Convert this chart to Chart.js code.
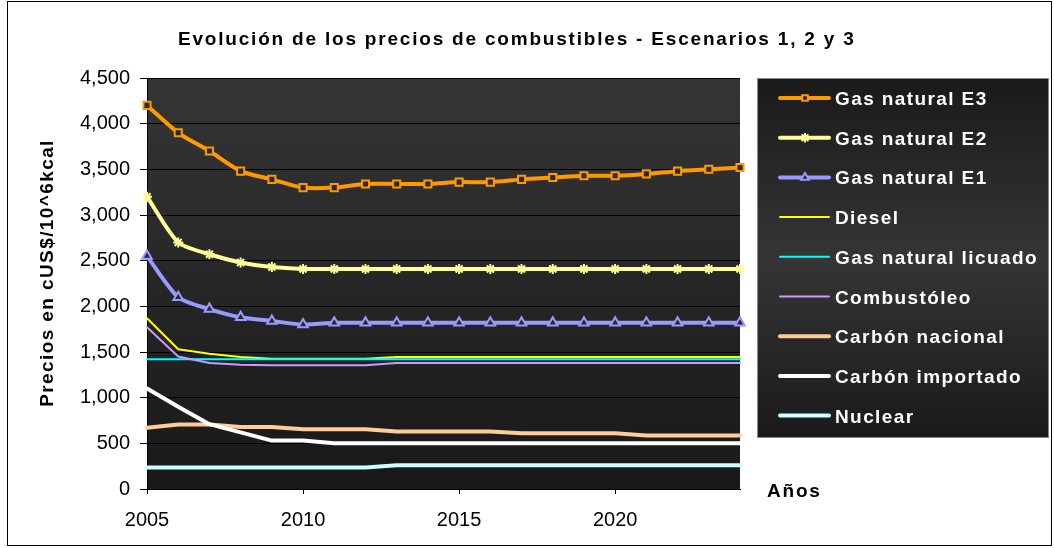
<!DOCTYPE html>
<html>
<head>
<meta charset="utf-8">
<title>Evolución de los precios de combustibles</title>
<script src="https://cdn.jsdelivr.net/npm/chart.js@4.4.1/dist/chart.umd.min.js"></script>
<style>
  html, body { margin: 0; padding: 0; background: #fff; }
  #wrap { width: 1054px; height: 548px; }
</style>
</head>
<body>
<div id="wrap"><canvas id="fuelChart" width="1054" height="548"></canvas></div>
<script>
// Years
const years = ['2005','2006','2007','2008','2009','2010','2011','2012','2013','2014',
               '2015','2016','2017','2018','2019','2020','2021','2022','2023','2024'];

// Prices, cUS$/10^6 kcal
const gasE3 = [4200, 3900, 3700, 3480, 3390, 3300, 3300, 3340, 3340, 3340, 3360, 3360, 3390, 3410, 3430, 3430, 3450, 3480, 3500, 3520];
const gasE2 = [3200, 2700, 2570, 2480, 2430, 2410, 2410, 2410, 2410, 2410, 2410, 2410, 2410, 2410, 2410, 2410, 2410, 2410, 2410, 2410];
const gasE1 = [2550, 2100, 1970, 1880, 1840, 1800, 1820, 1820, 1820, 1820, 1820, 1820, 1820, 1820, 1820, 1820, 1820, 1820, 1820, 1820];
const diesel = [1870, 1530, 1480, 1445, 1425, 1425, 1425, 1425, 1445, 1445, 1445, 1445, 1445, 1445, 1445, 1445, 1445, 1445, 1445, 1445];
const gnl = [1420, 1420, 1420, 1420, 1420, 1420, 1420, 1420, 1420, 1420, 1420, 1420, 1420, 1420, 1420, 1420, 1420, 1420, 1420, 1420];
const combustoleo = [1770, 1450, 1380, 1360, 1355, 1355, 1355, 1355, 1380, 1380, 1380, 1380, 1380, 1380, 1380, 1380, 1380, 1380, 1380, 1380];
const carbonNac = [670, 705, 705, 680, 680, 655, 655, 655, 630, 630, 630, 630, 610, 610, 610, 610, 585, 585, 585, 585];
const carbonImp = [1100, 900, 710, 620, 530, 530, 500, 500, 500, 500, 500, 500, 500, 500, 500, 500, 500, 500, 500, 500];
const nuclear = [235, 235, 235, 235, 235, 235, 235, 235, 260, 260, 260, 260, 260, 260, 260, 260, 260, 260, 260, 260];

// y axis
const yMax = 4500;
const yStep = 500;

const FONT = "'Liberation Sans', Arial, sans-serif";

const series = [
  { label: 'Gas natural E3', data: gasE3, color: '#FF9900', width: 4, marker: 'rect', r: 5, tension: 0.25 },
  { label: 'Gas natural E2', data: gasE2, color: '#FFFF99', width: 4, marker: 'star', r: 5, tension: 0.25 },
  { label: 'Gas natural E1', data: gasE1, color: '#9999FF', width: 4, marker: 'triangle', r: 5.5, tension: 0.25 },
  { label: 'Diesel', data: diesel, color: '#FFFF00', width: 2 },
  { label: 'Gas natural licuado', data: gnl, color: '#00FFFF', width: 2 },
  { label: 'Combustóleo', data: combustoleo, color: '#CC99FF', width: 2 },
  { label: 'Carbón nacional', data: carbonNac, color: '#FFCC99', width: 4 },
  { label: 'Carbón importado', data: carbonImp, color: '#FFFFFF', width: 4 },
  { label: 'Nuclear', data: nuclear, color: '#CCFFFF', width: 4 }
];

function drawMarker(ctx, style, x, y, r, color, fill) {
  ctx.save();
  ctx.strokeStyle = color;
  ctx.fillStyle = fill;
  ctx.lineWidth = 2;
  ctx.beginPath();
  if (style === 'rect') {
    const h = r * 0.7;
    ctx.rect(x - h, y - h, 2 * h, 2 * h);
    ctx.fill(); ctx.stroke();
  } else if (style === 'triangle') {
    ctx.moveTo(x, y - r);
    ctx.lineTo(x + r * 0.87, y + r * 0.5);
    ctx.lineTo(x - r * 0.87, y + r * 0.5);
    ctx.closePath();
    ctx.fill(); ctx.stroke();
  } else if (style === 'star') {
    const d = r * 0.7;
    ctx.moveTo(x - r, y); ctx.lineTo(x + r, y);
    ctx.moveTo(x, y - r); ctx.lineTo(x, y + r);
    ctx.moveTo(x - d, y - d); ctx.lineTo(x + d, y + d);
    ctx.moveTo(x - d, y + d); ctx.lineTo(x + d, y - d);
    ctx.stroke();
  }
  ctx.restore();
}

const decor = {
  id: 'decor',
  beforeDraw(chart) {
    const { ctx, chartArea: a } = chart;
    ctx.save();
    ctx.fillStyle = '#fff';
    ctx.fillRect(0, 0, chart.width, chart.height);
    const g = ctx.createLinearGradient(0, a.top, 0, a.bottom);
    g.addColorStop(0, '#353535');
    g.addColorStop(1, '#181818');
    ctx.fillStyle = g;
    ctx.fillRect(a.left, a.top, a.right - a.left, a.bottom - a.top);
    ctx.restore();
  },
  afterDraw(chart) {
    const ctx = chart.ctx;
    ctx.save();
    ctx.font = 'bold 19px ' + FONT;
    ctx.textAlign = 'left';
    ctx.textBaseline = 'alphabetic';

    // title
    ctx.fillStyle = '#000';
    ctx.letterSpacing = '1.8px';
    ctx.fillText('Evolución de los precios de combustibles - Escenarios 1, 2 y 3', 178, 45);

    // axis titles
    ctx.fillText('Años', 767, 497);
    ctx.letterSpacing = '1.4px';
    ctx.save();
    ctx.translate(53, 273);
    ctx.rotate(-Math.PI / 2);
    ctx.textAlign = 'center';
    ctx.fillText('Precios en cUS$/10^6kcal', 0, 0);
    ctx.restore();

    // legend box
    const lx = 757, ly = 78, lw = 292, lh = 360;
    const g = ctx.createLinearGradient(0, ly, 0, ly + lh);
    g.addColorStop(0, '#1a1a1a');
    g.addColorStop(0.5, '#353535');
    g.addColorStop(1, '#1a1a1a');
    ctx.fillStyle = g;
    ctx.fillRect(lx, ly, lw, lh);
    ctx.strokeStyle = '#888';
    ctx.lineWidth = 1;
    ctx.strokeRect(lx + 0.5, ly + 0.5, lw - 1, lh - 1);

    series.forEach((s, i) => {
      const cy = 98 + i * 39.7;
      ctx.strokeStyle = s.color;
      ctx.lineWidth = s.width;
      ctx.lineCap = 'round';
      ctx.beginPath();
      ctx.moveTo(780, cy);
      ctx.lineTo(829, cy);
      ctx.stroke();
      if (s.marker) drawMarker(ctx, s.marker, 805, cy, s.r - 1, s.color, '#222');
      ctx.fillStyle = '#fff';
      ctx.fillText(s.label, 835, cy + 7);
    });

    // outer frame
    ctx.strokeStyle = '#000';
    ctx.lineWidth = 1;
    ctx.strokeRect(7.5, 1.5, 1044, 544);
    ctx.restore();
  }
};

const ctx = document.getElementById('fuelChart').getContext('2d');
const fuelChart = new Chart(ctx, {
  type: 'line',
  data: {
    labels: years,
    datasets: series.map((s, i) => ({
      label: s.label,
      data: s.data,
      borderColor: s.color,
      borderWidth: s.width,
      borderCapStyle: 'round',
      borderJoinStyle: 'round',
      tension: s.tension || 0,
      fill: false,
      clip: 8,
      order: series.length - i,
      pointStyle: s.marker || false,
      pointRadius: s.marker ? s.r : 0,
      pointBorderColor: s.color,
      pointBackgroundColor: '#2a2a2a',
      pointBorderWidth: 2
    }))
  },
  options: {
    responsive: false,
    animation: false,
    events: [],
    layout: { padding: { top: 78, right: 314, bottom: 0, left: 0 } },
    plugins: { legend: { display: false }, title: { display: false }, tooltip: { enabled: false } },
    scales: {
      x: {
        type: 'category',
        offset: false,
        grid: { display: true, drawOnChartArea: false, drawTicks: true, tickLength: 5, color: '#000' },
        border: { display: true, color: '#000', width: 1 },
        ticks: {
          autoSkip: false, maxRotation: 0, color: '#000', padding: 14,
          font: { family: FONT, size: 20 },
          callback: function (v) {
            const yr = Number(this.getLabelForValue(v));
            return yr % 5 === 0 ? String(yr) : null;
          }
        },
        afterFit: s => { s.height = 59; }
      },
      y: {
        min: 0, max: yMax,
        grid: { color: '#000', tickLength: 7, drawTicks: true },
        border: { display: true, color: '#000', width: 1 },
        ticks: {
          stepSize: yStep, color: '#000', padding: 10,
          font: { family: FONT, size: 20 },
          callback: v => v.toLocaleString('en-US')
        },
        afterFit: s => { s.width = 147; }
      }
    }
  },
  plugins: [decor]
});
</script>
</body>
</html>
